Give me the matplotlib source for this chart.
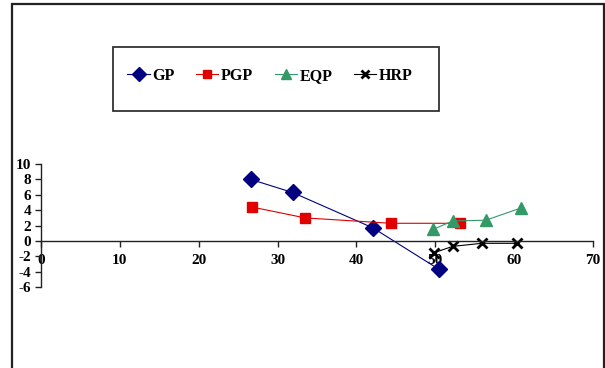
import matplotlib
matplotlib.use("Agg")
import matplotlib.pyplot as plt
from matplotlib.patches import Rectangle

gp_x = [26.6, 31.9, 42.1, 50.5]
gp_y = [8.0, 6.3, 1.7, -3.7]
pgp_x = [26.8, 33.5, 44.4, 53.1]
pgp_y = [4.4, 3.0, 2.3, 2.3]
eqp_x = [49.7, 52.2, 56.4, 60.9]
eqp_y = [1.5, 2.6, 2.7, 4.3]
hrp_x = [49.9, 52.2, 55.9, 60.4]
hrp_y = [-1.5, -0.7, -0.3, -0.3]
series_names = ["GP", "PGP", "EQP", "HRP"]
x_ticks = [0, 10, 20, 30, 40, 50, 60, 70]
y_ticks = [-6, -4, -2, 0, 2, 4, 6, 8, 10]

W, H = 605, 368
plt.rcParams['font.family'] = ['Liberation Serif', 'DejaVu Serif']
fig = plt.figure(figsize=(W / 100, H / 100), dpi=100)

def fx(px):
    return px / W

def fy(py):
    return 1 - py / H

# outer frame
fig.patches.append(Rectangle((fx(12), fy(372)), fx(604) - fx(12), fy(4) - fy(372),
                             transform=fig.transFigure, fill=False, edgecolor='#222222',
                             linewidth=1.6, clip_on=False))
# legend box
fig.patches.append(Rectangle((fx(113), fy(111)), fx(439) - fx(113), fy(47) - fy(111),
                             transform=fig.transFigure, fill=False, edgecolor='#333333',
                             linewidth=1.3))

ax = fig.add_axes([fx(41), fy(287.2), fx(593) - fx(41), fy(164) - fy(287.2)])
ax.set_xlim(0, 70)
ax.set_ylim(-6, 10)

l1, = ax.plot(gp_x, gp_y, color='#000080', lw=0.8, marker='D', ms=8.5, mfc='#000080', mec='#000080', clip_on=False)
l2, = ax.plot(pgp_x, pgp_y, color='#e00000', lw=0.8, marker='s', ms=7.5, mfc='#e00000', mec='#e00000', clip_on=False)
l3, = ax.plot(eqp_x, eqp_y, color='#339966', lw=0.8, marker='^', ms=8.5, mfc='#339966', mec='#339966', clip_on=False)
l4, = ax.plot(hrp_x, hrp_y, color='black', lw=0.8, marker='x', ms=7, mew=2, clip_on=False)

for s in ['top', 'right']:
    ax.spines[s].set_visible(False)
ax.spines['bottom'].set_position(('data', 0))
ax.spines['left'].set_position(('data', 0))
for s in ['bottom', 'left']:
    ax.spines[s].set_linewidth(1.0)
    ax.spines[s].set_color('#222222')

ax.set_xticks(x_ticks)
ax.set_yticks(y_ticks)
ax.set_xticklabels([str(v) for v in x_ticks], fontweight='bold', fontsize=11)
ax.set_yticklabels([str(v) for v in y_ticks], fontweight='bold', fontsize=11)
ax.tick_params(axis='x', direction='out', length=4, width=1, pad=5, color='#222222')
ax.tick_params(axis='y', direction='out', length=4, width=1, pad=3, color='#222222')

fig.legend([l1, l2, l3, l4], series_names, loc='center',
           bbox_to_anchor=(fx(270), fy(76)), ncol=4, frameon=False,
           prop={'weight': 'bold', 'size': 11.5}, handlelength=1.4,
           handletextpad=0.15, columnspacing=1.35, markerscale=0.8)

fig.savefig("out.png", dpi=100)
